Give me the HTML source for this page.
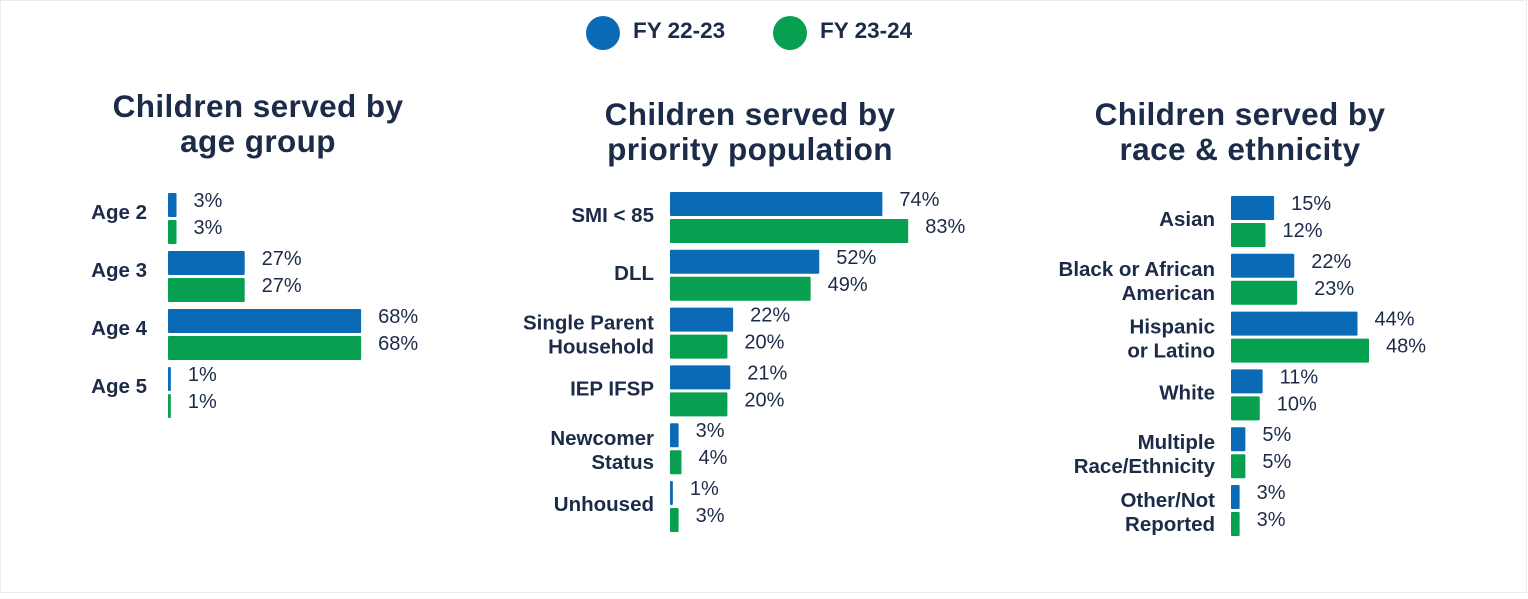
<!DOCTYPE html>
<html><head><meta charset="utf-8">
<style>
html,body{margin:0;padding:0;background:#fff;}
body{width:1528px;height:594px;overflow:hidden;font-family:"Liberation Sans",sans-serif;}
svg text{font-family:"Liberation Sans",sans-serif;}
</style></head>
<body>
<svg id="chart" width="1528" height="594" viewBox="0 0 1528 594" xmlns="http://www.w3.org/2000/svg">
<rect x="0.5" y="0.5" width="1526" height="592" fill="#fff" stroke="#e8ecee"/>
<g>
  <g>
    <circle cx="603" cy="33" r="17" fill="#0a6ab6"/>
    <text x="633" y="38" font-size="22.5" font-weight="bold" fill="#1c2b48">FY 22-23</text>
  </g>
  <g>
    <circle cx="790" cy="33" r="17" fill="#07a050"/>
    <text x="820" y="38" font-size="22.5" font-weight="bold" fill="#1c2b48">FY 23-24</text>
  </g>
</g>
</svg>
<script>
const ageCategories = ["Age 2","Age 3","Age 4","Age 5"];
const ageFY2223 = [3,27,68,1];
const ageFY2324 = [3,27,68,1];
const priorityCategories = [["SMI < 85"],["DLL"],["Single Parent","Household"],["IEP IFSP"],["Newcomer","Status"],["Unhoused"]];
const priorityFY2223 = [74,52,22,21,3,1];
const priorityFY2324 = [83,49,20,20,4,3];
const raceCategories = [["Asian"],["Black or African","American"],["Hispanic","or Latino"],["White"],["Multiple","Race/Ethnicity"],["Other/Not","Reported"]];
const raceFY2223 = [15,22,44,11,5,3];
const raceFY2324 = [12,23,48,10,5,3];

const NS="http://www.w3.org/2000/svg";
const svg=document.getElementById('chart');
const BLUE="#0a6ab6", GREEN="#07a050", INK="#1c2b48";
function mk(tag,attrs,parent){const e=document.createElementNS(NS,tag);for(const k in attrs)e.setAttribute(k,attrs[k]);(parent||svg).appendChild(e);return e;}

function drawPanel(cfg){
  const g=mk('g',{});
  
  
  const title=mk('text',{x:cfg.titleX,y:cfg.titleY,'text-anchor':'middle','font-size':31.5,'font-weight':'bold',fill:INK,'letter-spacing':0.4},g);
  
  
  cfg.title.forEach((t,i)=>{const ts=mk('tspan',{x:cfg.titleX,dy:i?35:0},title);ts.textContent=t;});
  const xScale=v=>cfg.x0+v*cfg.pxPer;
  const yBand=i=>cfg.y0+i*cfg.pitch;
  cfg.cats.forEach((c,i)=>{
    const lines=Array.isArray(c)?c:[c];
    const yTop=yBand(i);
    const lab=mk('text',{'text-anchor':'end','font-size':20.5,'font-weight':'bold',fill:INK},g);
    
    
    const mid=yTop+25;
    const startY=mid+7-(lines.length-1)*12+(lines.length>1?2:-2)+cfg.labDy;
    lines.forEach((t,j)=>{const ts=mk('tspan',{x:cfg.x0-cfg.labGap,y:startY+j*24},lab);ts.textContent=t;});
    [[cfg.s1[i],BLUE,0,'fy2223'],[cfg.s2[i],GREEN,27,'fy2324']].forEach(([v,col,off,sn])=>{
      const w=Math.max(xScale(v)-cfg.x0,2);
      const r=mk('rect',{x:cfg.x0,y:yTop+off,width:w,height:24,fill:col,rx:1},g);
      
      
      const t=mk('text',{x:cfg.x0+w+17,y:yTop+off+14,'font-size':20,fill:INK},g);
      
      
      t.textContent=v+'%';
    });
  });
}
drawPanel({name:'age-group-chart',title:['Children served by','age group'],titleX:258,titleY:117,cats:ageCategories,s1:ageFY2223,s2:ageFY2324,x0:168,pxPer:2.84,y0:193,pitch:58,labGap:21,labDy:-4});
drawPanel({name:'priority-population-chart',title:['Children served by','priority population'],titleX:750,titleY:125,cats:priorityCategories,s1:priorityFY2223,s2:priorityFY2324,x0:670,pxPer:2.87,y0:192,pitch:57.8,labGap:16,labDy:0});
drawPanel({name:'race-ethnicity-chart',title:['Children served by','race & ethnicity'],titleX:1240,titleY:125,cats:raceCategories,s1:raceFY2223,s2:raceFY2324,x0:1231,pxPer:2.875,y0:196,pitch:57.8,labGap:16,labDy:0});
</script>
</body></html>
